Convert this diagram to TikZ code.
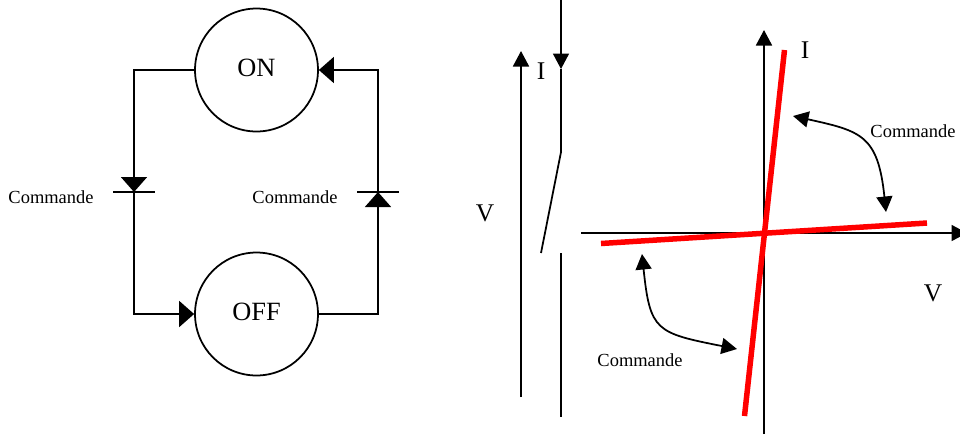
\documentclass[tikz,border=0pt]{standalone}
\usepackage{fontspec}
\setmainfont{Liberation Serif}
\usetikzlibrary{arrows.meta}

\tikzset{
  state/.style={draw, circle, minimum size=2.46cm, inner sep=0pt, font=\fontsize{15}{18}\selectfont},
  big/.style={inner sep=0pt, font=\fontsize{14.5}{17}\selectfont},
  cmd/.style={inner sep=0pt, font=\fontsize{10.5}{13}\selectfont},
  bigtip/.style={-{Triangle[length=.3cm, width=.52cm]}},
  axistip/.style={-{Triangle[length=.31cm, width=.32cm]}},
  bothtip/.style={{Triangle[length=.31cm, width=.32cm]}-{Triangle[length=.31cm, width=.32cm]}},
  charac/.style={red, line width=.11cm}
}

\begin{document}
\begin{tikzpicture}[x=.02cm, y=-.02cm, line width=1pt]
  \useasboundingbox (0,0) rectangle (960,434);

  \node[state] (on) at (256.5,70) {\raisebox{.08cm}{ON}};
  \node[state] (off) at (256.5,314) {\raisebox{.08cm}{OFF}};
  \coordinate (dl) at (134,192);
  \coordinate (dla) at (113,192);
  \coordinate (dlb) at (155,192);
  \coordinate (dr) at (378,192);
  \coordinate (dra) at (357,192);
  \coordinate (drb) at (399,192);
  \node[cmd] (cmdl) at (51,197) {Commande};
  \node[cmd] (cmdr) at (295,197) {Commande};

  \draw[bigtip] (on.west) -| (dl);
  \draw (dla) -- (dlb);
  \draw[bigtip] (dl) |- (off.west);
  \draw[bigtip] (off.east) -| (dr);
  \draw (dra) -- (drb);
  \draw[bigtip] (dr) |- (on.east);

  % interrupteur
  \coordinate (vbot) at (521,397);
  \coordinate (vtop) at (521,51);
  \coordinate (swtop) at (561,0);
  \coordinate (swi) at (561,69);
  \coordinate (swk) at (561,152);
  \coordinate (swo) at (541,253);
  \coordinate (swp) at (561,253);
  \coordinate (swbot) at (561,417);
  \node[big] (il) at (541,71) {I};
  \node[big] (vl) at (485,213) {V};

  \draw[axistip] (vbot) -- (vtop);
  \draw[axistip] (swtop) -- (swi);
  \draw (swi) -- (swk) -- (swo);
  \draw (swp) -- (swbot);

  % caracteristique
  \coordinate (yb) at (764,434);
  \coordinate (yt) at (764,30);
  \coordinate (xl) at (581,233);
  \coordinate (xr) at (967,233);
  \coordinate (ra) at (784.5,50);
  \coordinate (rb) at (744.5,416);
  \coordinate (rc) at (601,243.5);
  \coordinate (rd) at (927,223);
  \coordinate (cua) at (793,116);
  \coordinate (cub) at (886,212);
  \coordinate (cla) at (642,254);
  \coordinate (clb) at (737,349);
  \node[big] (ir) at (805,50) {I};
  \node[big] (vr) at (933,293) {V};
  \node[cmd] (cmdu) at (913,131) {Commande};
  \node[cmd] (cmdd) at (640,360) {Commande};

  \draw[axistip] (yb) -- (yt);
  \draw[axistip] (xl) -- (xr);
  \draw[charac] (ra) -- (rb);
  \draw[charac] (rc) -- (rd);
  \draw[bothtip] (cua) .. controls (861,131) and (878,135) .. (cub);
  \draw[bothtip] (cla) .. controls (650,331) and (656,333) .. (clb);
\end{tikzpicture}
\end{document}
